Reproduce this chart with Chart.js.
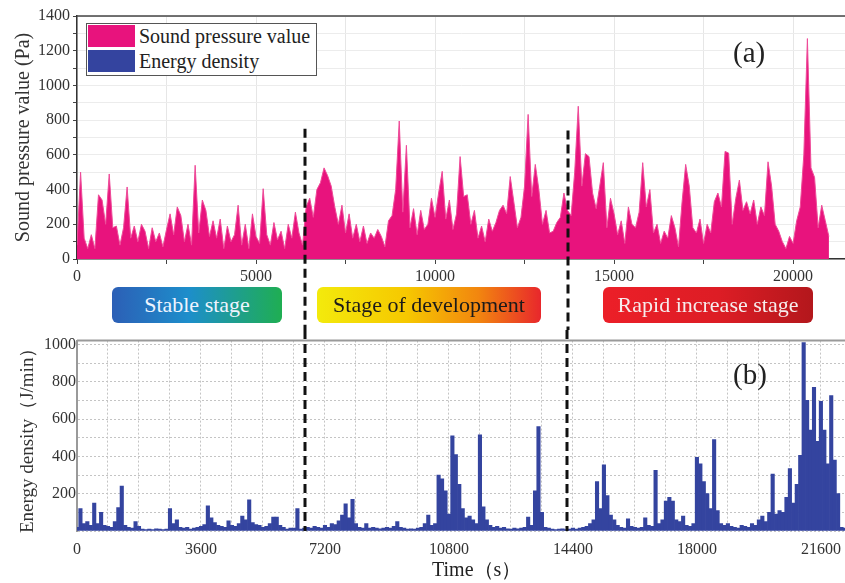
<!DOCTYPE html>
<html>
<head>
<meta charset="utf-8">
<script src="https://cdn.jsdelivr.net/npm/chart.js@4.4.0/dist/chart.umd.min.js"></script>
<style>
  body { margin: 0; background: #fff; }
  #wrap { position: relative; width: 845px; height: 583px; font-family: "Liberation Serif", "Times New Roman", serif; color: #222; }
  #topChart { position: absolute; left: 0; top: 0; }
  #botChart { position: absolute; left: 0; top: 330px; }
  .stage { position: absolute; top: 287px; height: 36px; line-height: 35px; border-radius: 6px; font-size: 22px; text-align: center; }
  #legend { position: absolute; left: 86px; top: 23px; width: 231px; height: 53px; border: 1px solid #555; box-sizing: border-box; background: #fff; font-size: 20px; }
  .lg { height: 24px; line-height: 22px; margin-top: 1px; white-space: nowrap; }
  .sw { display: inline-block; width: 47px; height: 22px; margin: 0 4px 0 1px; vertical-align: top; }
  .panel { position: absolute; font-size: 29px; }
</style>
</head>
<body>
<div id="wrap">
  <canvas id="topChart" width="845" height="330"></canvas>
  <canvas id="botChart" width="845" height="253"></canvas>
  <div id="legend">
    <div class="lg"><span class="sw" id="swPink"></span>Sound pressure value</div>
    <div class="lg"><span class="sw" id="swBlue"></span>Energy density</div>
  </div>
  <div class="panel" style="left:733px;top:36px;">(a)</div>
  <div class="panel" style="left:733px;top:358px;">(b)</div>
  <div class="stage" style="left:112px;width:170px;color:#eef4ff;background:linear-gradient(90deg,#2c5fb6 0%,#1d8ecb 45%,#1fae52 100%);">Stable stage</div>
  <div class="stage" style="left:317px;width:224px;color:#1a1a1a;background:linear-gradient(90deg,#f3ea0c 0%,#f6c800 40%,#f2860f 72%,#e8272c 100%);">Stage of development</div>
  <div class="stage" style="left:603px;width:210px;color:#f6ecec;background:linear-gradient(90deg,#ec1f28 0%,#dd1d25 55%,#b3171c 100%);">Rapid increase stage</div>
  <div style="position:absolute;left:432px;top:556px;font-size:20px;">Time（s）</div>
</div>
<script>
// sound pressure (Pa), one value every 100 s from 0 to 21000 s
const soundStep = 100;
const soundPressure = [
  80, 500, 120, 60, 140, 60, 370, 340, 200, 490,
  180, 190, 80, 180, 415, 120, 190, 100, 200, 160,
  60, 180, 100, 150, 70, 170, 260, 140, 300, 250,
  100, 200, 80, 540, 150, 340, 280, 130, 220, 120,
  230, 60, 190, 100, 140, 310, 80, 200, 60, 260,
  130, 90, 405, 140, 80, 210, 110, 160, 60, 200,
  120, 270, 150, 80, 300, 350, 240, 400, 440, 525,
  480, 420, 300, 200, 310, 150, 260, 120, 200, 100,
  190, 90, 150, 120, 170, 130, 70, 220, 250, 400,
  795, 270, 655, 180, 290, 140, 280, 170, 200, 350,
  240, 380, 505, 230, 340, 170, 260, 590, 360, 370,
  200, 280, 120, 190, 100, 230, 160, 210, 280, 310,
  260, 475, 330, 180, 240, 420, 833, 360, 545, 400,
  200, 280, 150, 160, 210, 240, 380, 280, 250, 500,
  880, 420, 607, 590, 380, 290, 420, 555, 180, 350,
  260, 140, 220, 90, 300, 200, 180, 270, 555, 300,
  400, 150, 200, 90, 160, 120, 250, 180, 70, 330,
  545, 420, 180, 150, 230, 90, 200, 150, 330, 380,
  300, 620, 610, 200, 350, 455, 280, 330, 260, 340,
  200, 300, 250, 560, 420, 200, 160, 100, 60, 130,
  90, 220, 300, 600, 1270, 525, 470, 180, 310, 220,
  130
];

// energy density (J/min), one value every 100 s from 0 to 22300 s
const energyStep = 100;
const energyDensity = [
  20, 120, 40, 50, 30, 150, 40, 100, 30, 25,
  20, 50, 125, 240, 30, 20, 15, 50, 25, 10,
  8, 10, 8, 12, 10, 8, 10, 120, 40, 60,
  20, 15, 20, 10, 15, 20, 25, 35, 135, 70,
  45, 30, 25, 20, 55, 30, 25, 40, 80, 60,
  167, 45, 35, 30, 20, 25, 40, 75, 75, 30,
  20, 10, 15, 15, 120, 10, 15, 20, 15, 25,
  20, 15, 30, 20, 40, 35, 55, 85, 145, 70,
  170, 40, 20, 15, 40, 15, 20, 15, 12, 15,
  20, 15, 25, 50, 20, 15, 10, 12, 10, 15,
  20, 40, 85, 30, 40, 300, 280, 215, 90, 510,
  410, 250, 120, 70, 80, 60, 40, 515, 130, 60,
  30, 20, 25, 15, 20, 12, 10, 15, 12, 15,
  20, 75, 30, 215, 560, 100, 20, 15, 10, 8,
  10, 12, 8, 10, 15, 10, 15, 20, 25, 40,
  60, 265, 120, 355, 190, 85, 60, 30, 20, 15,
  65, 25, 20, 15, 20, 70, 30, 25, 325, 40,
  60, 160, 180, 160, 60, 50, 80, 30, 25, 40,
  395, 360, 265, 200, 120, 490, 110, 40, 30, 40,
  25, 20, 15, 30, 25, 20, 40, 30, 60, 80,
  50, 100, 305, 90, 110, 100, 180, 335, 150, 250,
  405, 1010, 700, 540, 770, 480, 695, 540, 360, 725,
  380, 200, 20, 15
];

// stage boundaries, in each panel's own time axis
const stageBoundsTop = [6370, 13720];
const stageBoundsBottom = [6620, 14240];

const pink = "#e8137d";
const blue = "#34449f";
const serif = "'Liberation Serif', 'Times New Roman', serif";

document.getElementById("swPink").style.background = pink;
document.getElementById("swBlue").style.background = blue;

Chart.defaults.font.family = serif;
Chart.defaults.color = "#333";

// plain multiples of step between min and max (chart.js would otherwise stretch the step to fit max)
function stepTicks(step) {
  return (scale) => {
    const ticks = [];
    for (let v = scale.min; v <= scale.max; v += step) ticks.push({ value: v });
    scale.ticks = ticks;
  };
}

const frameTop = {
  id: "frameTop",
  afterDraw(chart, args, opts) {
    const { ctx, chartArea } = chart;
    ctx.save();
    ctx.strokeStyle = opts.color;
    ctx.lineWidth = opts.width;
    ctx.beginPath();
    ctx.moveTo(chartArea.left, chartArea.top);
    ctx.lineTo(chartArea.right, chartArea.top);
    ctx.stroke();
    ctx.restore();
  },
};

// black dashed lines separating the stages
const stageLines = {
  id: "stageLines",
  afterDraw(chart, args, opts) {
    const { ctx, scales } = chart;
    ctx.save();
    ctx.strokeStyle = "#111";
    ctx.lineWidth = 3;
    ctx.setLineDash([9, 5]);
    opts.values.forEach((v, i) => {
      const px = Math.round(scales.x.getPixelForValue(v));
      const y0 = opts.from ? scales.y.getPixelForValue(opts.from[i]) : 0;
      const y1 = opts.toCanvasEnd ? chart.height : chart.chartArea.bottom;
      ctx.beginPath();
      ctx.moveTo(px, y0);
      ctx.lineTo(px, y1);
      ctx.stroke();
    });
    ctx.restore();
  },
};

new Chart(document.getElementById("topChart"), {
  type: "line",
  data: {
    datasets: [
      {
        data: soundPressure.map((v, i) => ({ x: i * soundStep, y: v })),
        borderColor: "#ee4a98",
        backgroundColor: pink,
        borderWidth: 1,
        fill: "origin",
        pointRadius: 0,
        tension: 0,
      },
    ],
  },
  options: {
    responsive: false,
    animation: false,
    layout: { padding: { top: 16, left: 0, right: 0, bottom: 0 } },
    plugins: {
      legend: { display: false },
      tooltip: { enabled: false },
      frameTop: { color: "#444", width: 1.5 },
      stageLines: { values: stageBoundsTop, from: [750, 740], toCanvasEnd: true },
    },
    scales: {
      x: {
        type: "linear",
        min: 0,
        max: 21450,
        afterBuildTicks: stepTicks(2500),
        ticks: {
          autoSkip: false,
          maxRotation: 0,
          padding: 3,
          font: { size: 16 },
          callback: (v) => (v % 5000 === 0 ? v : ""),
        },
        grid: { color: "#e6e6e6", tickLength: 5, tickColor: "#444" },
        border: { color: "#333", width: 1.5 },
        afterFit: (s) => { s.height = 71; },
      },
      y: {
        min: 0,
        max: 1400,
        afterBuildTicks: stepTicks(100),
        ticks: {
          autoSkip: false,
          padding: 3,
          font: { size: 16 },
          callback: (v) => (v % 200 === 0 ? v : ""),
        },
        grid: { color: "#ececec", tickLength: 4, tickColor: "#444" },
        border: { color: "#333", width: 1.5 },
        title: {
          display: true,
          text: "Sound pressure value (Pa)",
          font: { size: 20 },
          color: "#333",
          padding: { top: 12, bottom: 0 },
        },
        afterFit: (s) => { s.width = 77; },
      },
    },
  },
  plugins: [frameTop, stageLines],
});

new Chart(document.getElementById("botChart"), {
  type: "bar",
  data: {
    datasets: [
      {
        data: energyDensity.map((v, i) => ({ x: i * energyStep, y: v })),
        backgroundColor: blue,
        borderWidth: 0,
        barPercentage: 1,
        categoryPercentage: 1,
      },
    ],
  },
  options: {
    responsive: false,
    animation: false,
    layout: { padding: { top: 6, left: 0, right: 0, bottom: 0 } },
    plugins: {
      legend: { display: false },
      tooltip: { enabled: false },
      frameTop: { color: "#9a9a9a", width: 2 },
      stageLines: { values: stageBoundsBottom, toCanvasEnd: false },
    },
    scales: {
      x: {
        type: "linear",
        offset: false,
        min: 0,
        max: 22300,
        afterBuildTicks: stepTicks(900),
        ticks: {
          autoSkip: false,
          maxRotation: 0,
          padding: 3,
          font: { size: 16 },
          callback: (v) => (v % 3600 === 0 ? v : ""),
        },
        grid: { offset: false, color: "#c4c4c4", drawTicks: true, tickLength: 6, tickColor: "rgba(0,0,0,0)" },
        border: { display: false, dash: [2, 2] },
        afterFit: (s) => { s.height = 52; },
      },
      y: {
        min: 0,
        max: 1020,
        afterBuildTicks: stepTicks(100),
        ticks: {
          autoSkip: false,
          padding: 1,
          font: { size: 16 },
          callback: (v) => (v % 200 === 0 && v !== 0 ? v : ""),
        },
        grid: { color: "#c4c4c4", drawTicks: false },
        border: { color: "#9a9a9a", width: 2, dash: [2, 2] },
        title: {
          display: true,
          text: "Energy density（J/min）",
          font: { size: 19 },
          color: "#333",
          padding: { top: 17, bottom: 0 },
        },
        afterFit: (s) => { s.width = 77; },
      },
    },
  },
  plugins: [frameTop, stageLines],
});
</script>
</body>
</html>
